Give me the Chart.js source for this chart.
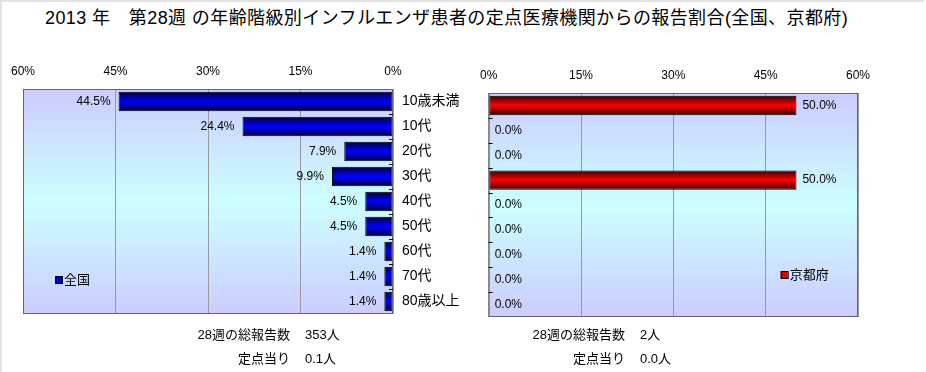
<!DOCTYPE html>
<html>
<head>
<meta charset="utf-8">
<script src="https://cdn.jsdelivr.net/npm/chart.js@4"></script>
<style>
  body { margin: 0; background: #fff; }
  #page { position: relative; width: 926px; height: 372px; overflow: hidden;
          font-family: "Liberation Sans", "Noto Sans CJK JP", sans-serif; color: #000; }
  #frame { position: absolute; left: 0; top: 0; width: 924px; height: 372px;
           border-top: 2px solid #e2e2e2; border-left: 2px solid #e2e2e2; box-sizing: border-box; }
  #title { position: absolute; left: 45px; top: 3px; font-size: 18px; letter-spacing: 0.4px; white-space: nowrap; }
  .box { position: absolute; top: 0; height: 372px; }
  .note { position: absolute; font-size: 13px; white-space: nowrap; }
  .note .k { display: inline-block; text-align: right; }
</style>
</head>
<body>
<div id="page">
  <div id="frame"></div>
  <div id="title">2013 年　第28週 の年齢階級別インフルエンザ患者の定点医療機関からの報告割合(全国、京都府)</div>
  <div class="box" style="left:0;width:470px"><canvas id="left"></canvas></div>
  <div class="box" style="left:470px;width:456px"><canvas id="right"></canvas></div>
  <div class="note" style="left:152px;top:324px"><span class="k" style="width:138px">28週の総報告数</span><span style="margin-left:15px">353人</span></div>
  <div class="note" style="left:152px;top:348px"><span class="k" style="width:138px">定点当り</span><span style="margin-left:15px">0.1人</span></div>
  <div class="note" style="left:487px;top:324px"><span class="k" style="width:138px">28週の総報告数</span><span style="margin-left:15px">2人</span></div>
  <div class="note" style="left:487px;top:348px"><span class="k" style="width:138px">定点当り</span><span style="margin-left:15px">0.0人</span></div>
</div>
<script>
const categories = ['10歳未満', '10代', '20代', '30代', '40代', '50代', '60代', '70代', '80歳以上']
const zenkoku = [44.5, 24.4, 7.9, 9.9, 4.5, 4.5, 1.4, 1.4, 1.4]
const kyoto = [50.0, 0.0, 0.0, 50.0, 0.0, 0.0, 0.0, 0.0, 0.0]
const axisMax = 60
const axisStep = 15

const fontFamily = '"Liberation Sans", "Noto Sans CJK JP", sans-serif'

// cylinder-ish shading for each bar
function barFill(dark, mid) {
  return (c) => {
    const chart = c.chart
    if (!chart.chartArea || c.dataIndex === undefined) return mid
    const y = chart.scales.y.getPixelForValue(c.dataIndex)
    const g = chart.ctx.createLinearGradient(0, y - 10, 0, y + 10)
    g.addColorStop(0, dark)
    g.addColorStop(0.5, mid)
    g.addColorStop(1, dark)
    return g
  }
}

const decor = {
  id: 'decor',
  beforeDraw: (chart) => {
    const { ctx, chartArea: a } = chart
    ctx.save()
    const g = ctx.createLinearGradient(0, a.top, 0, a.bottom)
    g.addColorStop(0, '#ccccff')
    g.addColorStop(0.5, '#ccffff')
    g.addColorStop(1, '#ccccff')
    ctx.fillStyle = g
    ctx.fillRect(a.left, a.top, a.right - a.left, a.bottom - a.top)
    ctx.restore()
  },
  afterDatasetsDraw: (chart, args, opts) => {
    const { ctx, chartArea: a } = chart
    ctx.save()
    // frame
    ctx.strokeStyle = '#666'
    ctx.lineWidth = 1
    ctx.strokeRect(a.left + 0.5, a.top + 0.5, a.right - a.left - 1, a.bottom - a.top - 1)
    // small category ticks inside the plot
    const yScale = chart.scales.y
    const x0 = opts.side === 'right' ? a.right : a.left
    const dir = opts.side === 'right' ? -1 : 1
    ctx.strokeStyle = '#000'
    for (let i = 1; i < categories.length; i++) {
      const y = Math.round((yScale.getPixelForValue(i - 1) + yScale.getPixelForValue(i)) / 2) + 0.5
      ctx.beginPath()
      ctx.moveTo(x0, y)
      ctx.lineTo(x0 + dir * 4, y)
      ctx.stroke()
    }
    // value labels
    ctx.font = '12px ' + fontFamily
    ctx.fillStyle = '#000'
    ctx.textBaseline = 'middle'
    const meta = chart.getDatasetMeta(0)
    const values = chart.data.datasets[0].data
    meta.data.forEach((bar, i) => {
      const txt = values[i].toFixed(1) + '%'
      if (opts.side === 'right') {
        ctx.textAlign = 'right'
        ctx.fillText(txt, bar.x - 8, bar.y)
      } else {
        ctx.textAlign = 'left'
        ctx.fillText(txt, bar.x + 6, bar.y)
      }
    })
    // legend
    const lx = a.left + opts.legend.dx
    const ly = a.bottom - opts.legend.dy
    ctx.fillStyle = opts.legend.color
    ctx.fillRect(lx, ly - 3.5, 7, 7)
    ctx.strokeStyle = '#000'
    ctx.strokeRect(lx + 0.5, ly - 3.5, 7, 7)
    ctx.fillStyle = '#000'
    ctx.textAlign = 'left'
    ctx.font = '13px ' + fontFamily
    ctx.fillText(opts.legend.text, lx + 9, ly)
    ctx.restore()
  }
}

function makeChart(id, values, label, dark, mid, side, reverse, pad, topH, legend) {
  const showCats = side === 'right'
  return new Chart(document.getElementById(id), {
    type: 'bar',
    data: {
      labels: categories,
      datasets: [{
        label,
        data: values,
        backgroundColor: barFill(dark, mid),
        borderColor: '#000',
        borderWidth: 1,
        borderSkipped: false,
        barPercentage: 0.78,
        categoryPercentage: 1
      }]
    },
    options: {
      indexAxis: 'y',
      responsive: true,
      maintainAspectRatio: false,
      animation: false,
      layout: { padding: pad },
      plugins: {
        legend: { display: false },
        tooltip: { enabled: false },
        decor: { side, legend }
      },
      scales: {
        x: {
          position: 'top',
          reverse,
          min: 0,
          max: axisMax,
          grid: { color: '#999', drawTicks: false },
          border: { display: false },
          ticks: {
            stepSize: axisStep,
            padding: 10,
            color: '#000',
            font: { size: 12, family: fontFamily },
            callback: (v) => v + '%'
          },
          afterFit: (s) => { s.height = topH }
        },
        y: {
          position: 'right',
          display: showCats,
          grid: { display: false, drawTicks: false },
          border: { display: false },
          ticks: {
            padding: 9,
            color: '#000',
            font: { size: 14, family: fontFamily }
          },
          afterFit: (s) => { s.width = showCats ? 77 : 0 }
        }
      }
    },
    plugins: [decor]
  })
}

makeChart('left', zenkoku, '全国', '#000033', '#0000ff', 'right', true,
  { left: 23, top: 0, right: 0, bottom: 58 }, 89,
  { dx: 32, dy: 34, color: '#0000cc', text: '全国' })

makeChart('right', kyoto, '京都府', '#330000', '#ff0000', 'left', false,
  { left: 17, top: 0, right: 68, bottom: 55 }, 93,
  { dx: 292, dy: 42, color: '#dd0000', text: '京都府' })
</script>
</body>
</html>
